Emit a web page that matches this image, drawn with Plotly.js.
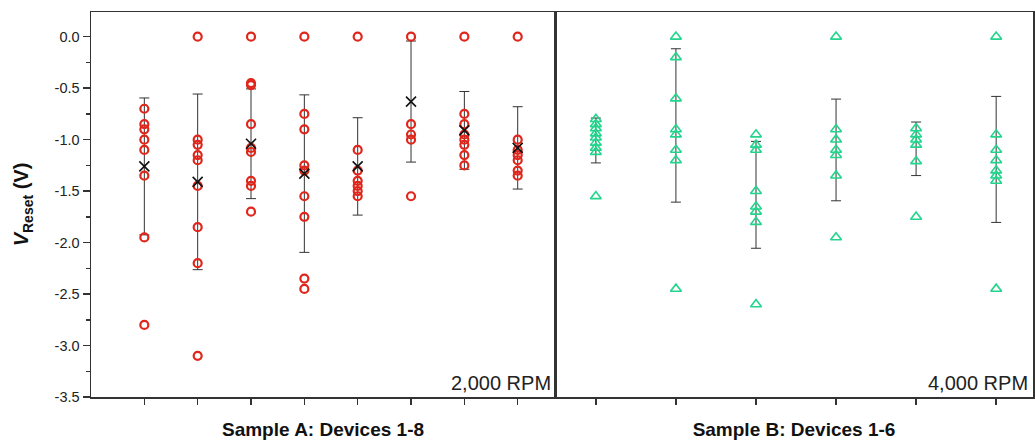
<!DOCTYPE html>
<html>
<head>
<meta charset="utf-8">
<script src="https://cdn.plot.ly/plotly-3.0.1.min.js"></script>
<style>html,body{margin:0;padding:0;background:#fff;}#chart{width:1035px;height:443px;}</style>
</head>
<body>
<div id="chart"></div>
<script>
// ---- Sample A (2,000 RPM): V_Reset per device ----
const devA1 = [-0.70, -0.85, -0.90, -1.00, -1.10, -1.35, -1.95, -2.80];
const devA2 = [0.0, -1.00, -1.05, -1.15, -1.20, -1.45, -1.85, -2.20, -3.10];
const devA3 = [0.0, -0.45, -0.47, -0.85, -1.08, -1.12, -1.40, -1.45, -1.70];
const devA4 = [0.0, -0.75, -0.90, -1.25, -1.30, -1.55, -1.75, -2.35, -2.45];
const devA5 = [0.0, -1.10, -1.30, -1.40, -1.45, -1.50, -1.55];
const devA6 = [0.0, -0.85, -0.95, -1.00, -1.55];
const devA7 = [0.0, -0.75, -0.85, -0.95, -1.00, -1.05, -1.15, -1.25];
const devA8 = [0.0, -1.00, -1.10, -1.15, -1.20, -1.30, -1.35];
const meanA = [-1.26, -1.41, -1.04, -1.33, -1.26, -0.63, -0.91, -1.08];
const sdA   = [0.665, 0.853, 0.533, 0.765, 0.473, 0.588, 0.378, 0.40];

// ---- Sample B (4,000 RPM): V_Reset per device ----
const devB1 = [-0.80, -0.85, -0.89, -0.94, -0.98, -1.03, -1.08, -1.12, -1.55];
const devB2 = [0.0, -0.20, -0.60, -0.90, -0.95, -1.10, -1.20, -2.45];
const devB3 = [-0.95, -1.05, -1.10, -1.50, -1.65, -1.70, -1.80, -2.60];
const devB4 = [0.0, -0.90, -1.00, -1.10, -1.15, -1.35, -1.95];
const devB5 = [-0.89, -0.95, -1.00, -1.05, -1.21, -1.75];
const devB6 = [0.0, -0.95, -1.10, -1.20, -1.30, -1.35, -1.40, -2.45];
const meanB = [-1.008, -0.862, -1.536, -1.10, -1.089, -1.192];
const sdB   = [0.218, 0.745, 0.519, 0.494, 0.26, 0.612];

// ---- tick labels ----
const yTickVals = [0.0, -0.5, -1.0, -1.5, -2.0, -2.5, -3.0, -3.5];
const yTickText = ["0.0", "-0.5", "-1.0", "-1.5", "-2.0", "-2.5", "-3.0", "-3.5"];
const yMinorVals = [0.25, -0.25, -0.75, -1.25, -1.75, -2.25, -2.75, -3.25];
const devicesA = [1, 2, 3, 4, 5, 6, 7, 8];
const devicesB = [1, 2, 3, 4, 5, 6];

const groupsA = [devA1, devA2, devA3, devA4, devA5, devA6, devA7, devA8];
const groupsB = [devB1, devB2, devB3, devB4, devB5, devB6];

function flatten(groups, devices) {
  const x = [], y = [];
  groups.forEach((g, i) => g.forEach(v => { x.push(devices[i]); y.push(v); }));
  return {x, y};
}
const fa = flatten(groupsA, devicesA);
const fb = flatten(groupsB, devicesB);

const RED = '#e0261b';
const GREEN = '#22d58c';

const traces = [
  { // error bars A
    x: devicesA, y: meanA, xaxis: 'x', yaxis: 'y', mode: 'markers',
    marker: {size: 1, opacity: 0},
    error_y: {type: 'data', array: sdA, visible: true, color: '#333', thickness: 1, width: 5},
    hoverinfo: 'skip', showlegend: false
  },
  {
    x: fa.x, y: fa.y, xaxis: 'x', yaxis: 'y', mode: 'markers',
    marker: {symbol: 'circle-open', size: 8, color: RED, line: {color: RED, width: 2.2}},
    showlegend: false
  },
  {
    x: devicesA, y: meanA, xaxis: 'x', yaxis: 'y', mode: 'markers',
    marker: {symbol: 'x-thin-open', size: 10, color: '#111', line: {color: '#111', width: 1.6}},
    showlegend: false
  },
  { // error bars B
    x: devicesB, y: meanB, xaxis: 'x2', yaxis: 'y2', mode: 'markers',
    marker: {size: 1, opacity: 0},
    error_y: {type: 'data', array: sdB, visible: true, color: '#333', thickness: 1, width: 5},
    hoverinfo: 'skip', showlegend: false
  },
  {
    x: fb.x, y: fb.y, xaxis: 'x2', yaxis: 'y2', mode: 'markers',
    marker: {symbol: 'triangle-up-open', size: 9.5, color: GREEN, line: {color: GREEN, width: 1.6}},
    showlegend: false
  }
];

const AXC = '#333';
const yCommon = {
  range: [-3.5, 0.24], showgrid: false, zeroline: false,
  showline: true, linecolor: AXC, linewidth: 1.5, mirror: true
};

const layout = {
  width: 1035, height: 443,
  margin: {l: 91, r: 2, t: 12, b: 46},
  paper_bgcolor: '#fff', plot_bgcolor: '#fff',
  font: {family: 'Liberation Sans, Arial, sans-serif', color: '#222'},
  xaxis: {
    domain: [0, 0.4926], range: [0, 8.7], anchor: 'y',
    tickvals: devicesA, showticklabels: false,
    ticks: 'outside', ticklen: 6, tickwidth: 1.5, tickcolor: AXC,
    showgrid: false, zeroline: false, showline: true, linecolor: AXC, linewidth: 1.5, mirror: true,
    title: {text: '<b>Sample A: Devices 1-8</b>', font: {size: 19, color: '#111'}, standoff: 19}
  },
  xaxis2: {
    domain: [0.4926, 1], range: [0.49, 6.46], anchor: 'y2',
    tickvals: devicesB, showticklabels: false,
    ticks: 'outside', ticklen: 6, tickwidth: 1.5, tickcolor: AXC,
    showgrid: false, zeroline: false, showline: true, linecolor: AXC, linewidth: 1.5, mirror: true,
    title: {text: '<b>Sample B: Devices 1-6</b>', font: {size: 19, color: '#111'}, standoff: 19}
  },
  yaxis: Object.assign({}, yCommon, {
    anchor: 'x',
    tickvals: yTickVals, ticktext: yTickText,
    ticks: 'outside', ticklen: 7, tickwidth: 1.5, tickcolor: AXC,
    tickfont: {size: 14.5, color: '#222'},
    minor: {tickvals: yMinorVals, ticks: 'outside', ticklen: 4, tickwidth: 1.5, tickcolor: AXC},
    title: {text: '<b><i>V</i><sub>Reset</sub> (V)</b>', font: {size: 20, color: '#111'}, standoff: 20}
  }),
  yaxis2: Object.assign({}, yCommon, {
    anchor: 'x2', matches: 'y', showticklabels: false, ticks: ''
  }),
  annotations: [
    {text: '2,000 RPM', xref: 'paper', yref: 'paper', x: 0.4926, y: 0, xanchor: 'right', yanchor: 'bottom',
     xshift: -2, yshift: 1, showarrow: false, font: {size: 20, color: '#222'}},
    {text: '4,000 RPM', xref: 'paper', yref: 'paper', x: 1, y: 0, xanchor: 'right', yanchor: 'bottom',
     xshift: -3, yshift: 1, showarrow: false, font: {size: 20, color: '#222'}}
  ]
};

Plotly.newPlot('chart', traces, layout, {displayModeBar: false, staticPlot: true});
</script>
</body>
</html>
